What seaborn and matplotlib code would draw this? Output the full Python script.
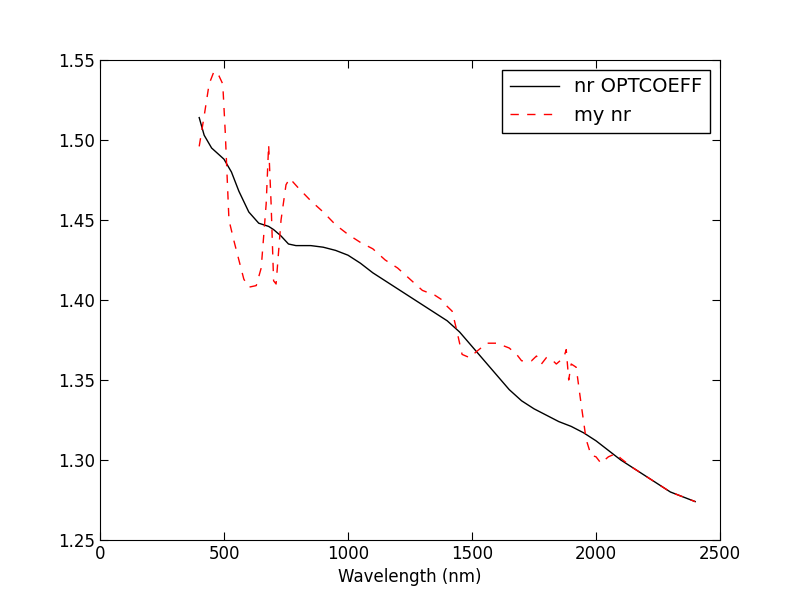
import numpy as np
import pandas as pd
import matplotlib
matplotlib.use("Agg")
import matplotlib.pyplot as plt
import seaborn as sns

wl_opt = [400, 420, 450, 500, 530, 560, 600, 640, 680, 700, 730, 760, 790, 850, 900, 950,
          1000, 1050, 1100, 1200, 1300, 1400, 1450, 1500, 1550, 1600, 1650, 1700, 1750,
          1800, 1850, 1900, 1950, 2000, 2050, 2100, 2150, 2200, 2250, 2300, 2350, 2400]
nr_opt = [1.514, 1.503, 1.495, 1.488, 1.480, 1.468, 1.455, 1.448, 1.446, 1.444, 1.440,
          1.435, 1.434, 1.434, 1.433, 1.431, 1.428, 1.423, 1.417, 1.407, 1.397, 1.387,
          1.380, 1.371, 1.362, 1.353, 1.344, 1.337, 1.332, 1.328, 1.324, 1.321, 1.317,
          1.312, 1.306, 1.300, 1.295, 1.290, 1.285, 1.280, 1.277, 1.274]

wl_my = [400, 420, 440, 460, 480, 495, 505, 520, 540, 560, 580, 600, 630, 650, 670, 680,
         690, 700, 710, 730, 750, 765, 800, 850, 900, 950, 1000, 1050, 1100, 1150, 1200,
         1250, 1300, 1350, 1380, 1400, 1420, 1440, 1460, 1490, 1520, 1560, 1600, 1650,
         1680, 1700, 1740, 1760, 1780, 1800, 1820, 1840, 1870, 1880, 1890, 1900, 1920,
         1940, 1960, 1980, 2000, 2020, 2050, 2080, 2100, 2150, 2200, 2250, 2300, 2350, 2400]
nr_my = [1.496, 1.515, 1.535, 1.543, 1.540, 1.535, 1.505, 1.450, 1.437, 1.425, 1.413,
         1.408, 1.409, 1.420, 1.460, 1.497, 1.460, 1.412, 1.410, 1.450, 1.472, 1.476,
         1.470, 1.462, 1.455, 1.447, 1.441, 1.436, 1.432, 1.425, 1.420, 1.413, 1.406,
         1.403, 1.400, 1.396, 1.393, 1.380, 1.366, 1.364, 1.368, 1.373, 1.373, 1.370,
         1.366, 1.362, 1.362, 1.365, 1.360, 1.364, 1.363, 1.360, 1.364, 1.369, 1.350,
         1.360, 1.358, 1.335, 1.313, 1.303, 1.302, 1.298, 1.302, 1.304, 1.301, 1.295,
         1.290, 1.285, 1.280, 1.277, 1.274]

df_opt = pd.DataFrame({"wl": wl_opt, "nr": nr_opt})
df_my = pd.DataFrame({"wl": wl_my, "nr": nr_my})

fig, ax = plt.subplots(figsize=(8, 6), dpi=100)
fig.subplots_adjust(left=0.125, right=0.9, bottom=0.1, top=0.9)

sns.lineplot(ax=ax, data=df_opt, x="wl", y="nr", color="black", lw=1,
             label="nr OPTCOEFF", sort=False)
sns.lineplot(ax=ax, data=df_my, x="wl", y="nr", color="red", lw=1,
             linestyle=(0, (6, 6)), label="my nr", sort=False)

ax.set_xlim(0, 2500)
ax.set_ylim(1.25, 1.55)
ax.set_xticks(np.arange(0, 2501, 500))
ax.set_yticks(np.arange(1.25, 1.551, 0.05))
ax.set_yticklabels([f"{v:.2f}" for v in np.arange(1.25, 1.551, 0.05)])
ax.set_xlabel("Wavelength (nm)", fontsize=12)
ax.set_ylabel("")
ax.tick_params(labelsize=12, direction="in", top=True, right=True, length=6)
leg = ax.legend(loc="upper right", fontsize=14, fancybox=False, framealpha=1,
                edgecolor="black", handlelength=2.5)
leg.get_frame().set_linewidth(1)

fig.savefig("out.png")
